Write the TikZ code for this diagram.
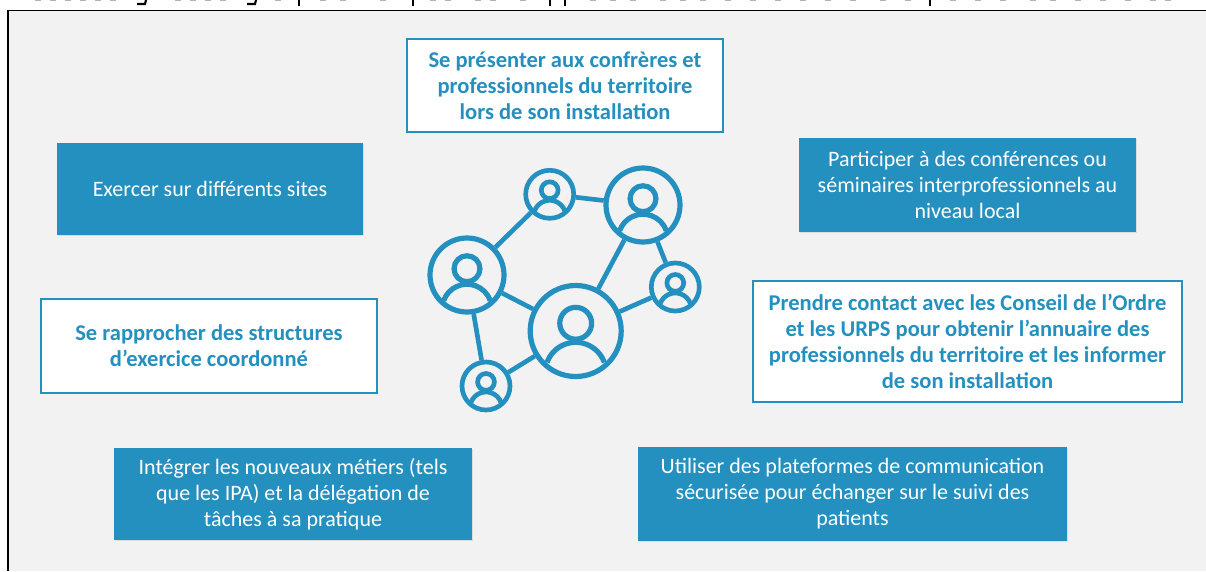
\documentclass[tikz,border=0pt]{standalone}
\usepackage{fontspec}
\setmainfont{Carlito}
\usetikzlibrary{shadows}
\definecolor{teal1}{HTML}{2490BF}
\definecolor{bg1}{HTML}{F2F2F2}
\tikzset{
  x=0.75pt,y=-0.75pt,
  boxbase/.style={rectangle,align=center,inner sep=0pt,font=\fontsize{16.5}{19.5}\selectfont},
  bluebox/.style={boxbase,fill=teal1,text=white,drop shadow={shadow xshift=1pt,shadow yshift=-1pt,opacity=.18}},
  whitebox/.style={boxbase,fill=white,draw=teal1,line width=1.5pt,text=teal1,font=\fontsize{16.9}{19.5}\selectfont\bfseries},
  ring/.style={circle,draw=teal1,inner sep=0pt,fill=none},
  link/.style={draw=teal1,line width=3.5pt},
  figline/.style={draw=teal1},
  frameline/.style={draw=black,line width=1.1pt},
  topbit/.style={draw=black,line width=1.6pt},
  topdash/.style={draw=black!30,line width=1pt}
}
% name, cx, cy, R (px, centre line of ring), stroke
\newcommand{\personicon}[5]{%
  \node[ring,line width=#5,minimum size={1.5pt*#4}] (#1) at (#2,#3) {};
  \draw[figline,line width=#5] ({#2},{#3-0.17*#4}) circle[radius={0.35*#4}];
  \draw[figline,line width=#5] ({#2-0.63*#4},{#3+0.69*#4}) arc[start angle=-160,end angle=-20,radius={0.67*#4}];
}
\begin{document}
\begin{tikzpicture}
\useasboundingbox (0,0) rectangle (1206,571);
\fill[bg1] (8,10.5) rectangle (1206,571);
\draw[frameline] (8,571) -- (8,10.5) -- (1206,10.5);
% cropped caption line at the very top
\foreach \xx in {299,413,550,565,930} \draw[topbit] (\xx,0) -- (\xx,5.5);
\foreach \xx in {142,252} \draw[topbit] (\xx-5,4) -- (\xx+3,4) -- (\xx+4,0);
\foreach \xx in {35,50,65,80,95,110,175,190,205,220,275,320,340,380,430,445,475,490,520,590,610,630,660,680,700,725,750,775,800,825,850,880,905,950,975,1000,1030,1050,1075,1100,1125,1150,1165}
  \draw[topdash] (\xx,0.5) -- (\xx+6,0.5);
% boxes
\node[whitebox,minimum width=237pt,minimum height=69.75pt] (n1) at (565,85.5) {Se présenter aux confrères et\\professionnels du territoire\\lors de son installation};
\node[bluebox,minimum width=252.75pt,minimum height=70.5pt] (n2) at (967.5,185) {Participer à des conférences ou\\séminaires interprofessionnels au\\niveau local};
\node[bluebox,minimum width=229.5pt,minimum height=69pt] (n3) at (210,189) {Exercer sur différents sites};
\node[whitebox,minimum width=252pt,minimum height=70.5pt] (n4) at (209,346) {Se rapprocher des structures\\d’exercice coordonné};
\node[whitebox,minimum width=321.75pt,minimum height=90.75pt] (n5) at (967.5,341.5) {Prendre contact avec les Conseil de l’Ordre\\et les URPS pour obtenir l’annuaire des\\professionnels du territoire et les informer\\de son installation};
\node[bluebox,minimum width=268.5pt,minimum height=69pt] (n6) at (293,494) {Intégrer les nouveaux métiers (tels\\que les IPA) et la délégation de\\tâches à sa pratique};
\node[bluebox,minimum width=321.75pt,minimum height=70.5pt] (n7) at (852.5,494) {Utiliser des plateformes de communication\\sécurisée pour échanger sur le suivi des\\patients};
% network icon
\personicon{pa}{467}{275}{37}{3.9pt}
\personicon{pb}{549.7}{194.3}{24}{3.5pt}
\personicon{pc}{643}{205}{37}{3.9pt}
\personicon{pd}{675.3}{287}{24}{3.5pt}
\personicon{pe}{575.7}{331}{45.5}{3.9pt}
\personicon{pf}{486}{386}{24}{3.5pt}
\draw[link] (pa) -- (pb);
\draw[link] (pb) -- (pc);
\draw[link] (pc) -- (pe);
\draw[link] (pc) -- (pd);
\draw[link] (pd) -- (pe);
\draw[link] (pa) -- (pe);
\draw[link] (pa) -- (pf);
\draw[link] (pf) -- (pe);
\end{tikzpicture}
\end{document}
